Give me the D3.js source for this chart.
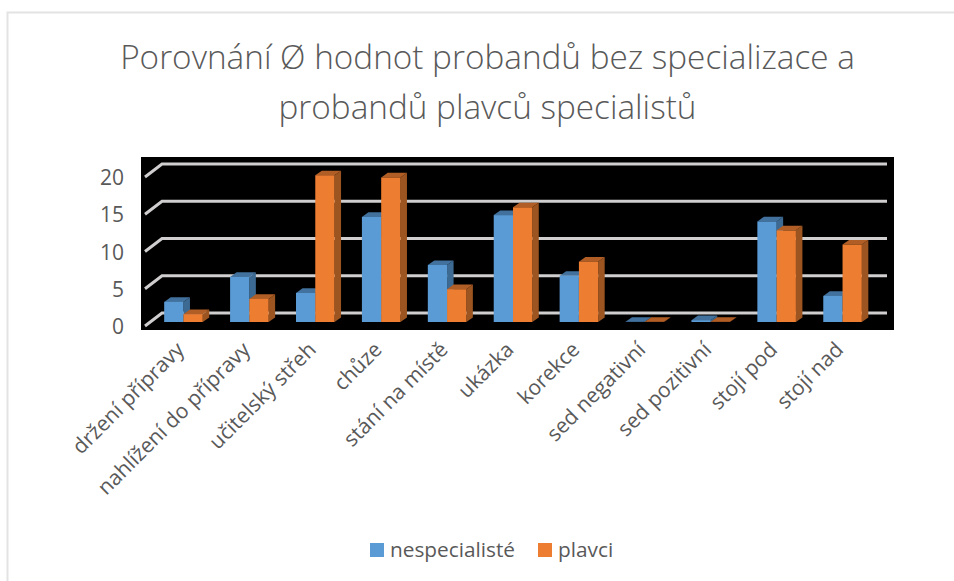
<!DOCTYPE html>
<html><head><meta charset="utf-8">
<script src="https://cdnjs.cloudflare.com/ajax/libs/d3/7.8.5/d3.min.js"></script>
<style>html,body{margin:0;padding:0;background:#fff}svg{display:block}text{font-family:"Open Sans",sans-serif}</style>
</head><body><svg id="c" width="954" height="581"></svg>
<script>
const categories = ["držení přípravy","nahlížení do přípravy","učitelský střeh","chůze","stání na místě","ukázka","korekce","sed negativní","sed pozitivní","stojí pod","stojí nad"];
const seriesNames = ["nespecialisté","plavci"];
const nespecialiste = [2.7,6.05,3.9,14.1,7.65,14.35,6.2,0.03,0.25,13.5,3.5];
const plavci = [1.05,3.1,19.7,19.4,4.4,15.4,8.1,0.03,0.03,12.3,10.4];
const yTicks = [0,5,10,15,20];
const titleLines = ["Porovnání Ø hodnot probandů bez specializace a","probandů plavců specialistů"];
const colors = ["#5b9bd5","#ed7d31"], tops=["#41719c","#b05e26"], sides=["#3d6a93","#9c5520"];

const svg = d3.select("#c");
svg.append("path").attr("d","M7.5,581V12.5H954").attr("fill","none").attr("stroke","#e3e3e3").attr("stroke-width",2);
svg.selectAll(".t").data(titleLines).join("text").attr("class","t").attr("x",487.5).attr("y",(d,i)=>69+i*50)
  .attr("text-anchor","middle").attr("font-size",33.3).attr("font-weight",300).attr("fill","#595959").text(d=>d);

svg.append("rect").attr("x",141).attr("y",157).attr("width",753).attr("height",173).attr("fill","#000");
const x = d3.scaleBand().domain(categories).range([150.5,875.5]);
const y = d3.scaleLinear().domain([0,20]).range([322,173]);
const x2 = d3.scaleBand().domain(d3.range(2)).range([0,x.bandwidth()]).paddingInner(0).paddingOuter(0.71);
const g = svg.append("g").attr("fill","none").attr("stroke","#d0cece").attr("stroke-width",3);
yTicks.forEach(t=>{
  const yb=y(t)-9;
  g.append("path").attr("d",`M145,${yb+13}L162,${yb}H887`);
});
const bw=x2.bandwidth(), dx=6.5, dy=-4.6;
[nespecialiste,plavci].forEach((vals,s)=>{
  const gs=svg.append("g");
  categories.forEach((c,i)=>{
    const x0=x(c)+x2(s), x1=x0+bw, yt=y(vals[i]), yb=y(0);
    gs.append("path").attr("fill",sides[s]).attr("d",`M${x1},${yt}L${x1+dx},${yt+dy}V${yb+dy}L${x1},${yb}Z`);
    gs.append("path").attr("fill",tops[s]).attr("d",`M${x0},${yt}L${x0+dx},${yt+dy}H${x1+dx}L${x1},${yt}Z`);
    gs.append("rect").attr("x",x0).attr("y",yt).attr("width",bw).attr("height",yb-yt).attr("fill",colors[s]);
  });
});
svg.selectAll(".yl").data(yTicks).join("text").attr("class","yl").attr("x",124).attr("y",d=>y(d)+12)
  .attr("text-anchor","end").attr("font-size",21).attr("fill","#595959").text(d=>d);
svg.selectAll(".xl").data(categories).join("text").attr("class","xl")
  .attr("transform",d=>`translate(${x(d)+x.bandwidth()/2+2},351) rotate(-45)`)
  .attr("text-anchor","end").attr("font-size",21).attr("fill","#595959").text(d=>d);
const lg=[{s:370,t:390},{s:538,t:558}];
seriesNames.forEach((n,i)=>{
  svg.append("rect").attr("x",lg[i].s).attr("y",543).attr("width",14).attr("height",14).attr("fill",colors[i]);
  svg.append("text").attr("x",lg[i].t).attr("y",557).attr("font-size",20.8).attr("fill","#595959").text(n);
});
</script></body></html>
